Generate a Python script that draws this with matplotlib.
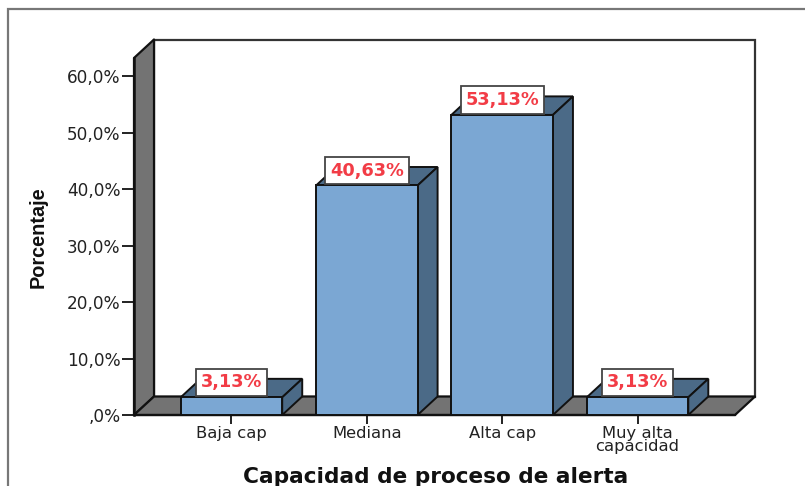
import matplotlib
matplotlib.use("Agg")
import matplotlib.pyplot as plt
from matplotlib.patches import Polygon, Rectangle

categorias = ["Baja cap", "Mediana", "Alta cap", "Muy alta\ncapacidad"]
porcentajes = [3.13, 40.63, 53.13, 3.13]
etiquetas = ["3,13%", "40,63%", "53,13%", "3,13%"]
ticks_y = [0, 10, 20, 30, 40, 50, 60]
ticks_y_labels = [",0%", "10,0%", "20,0%", "30,0%", "40,0%", "50,0%", "60,0%"]

W, H = 805, 486
COL_FRENTE = "#7BA7D3"
COL_LADO = "#4B6A87"
COL_PARED = "#737373"
BORDE = "#111111"

fig = plt.figure(figsize=(W / 100, H / 100), dpi=100)

# marco exterior, se sale de la imagen por la derecha y por abajo
fig.add_artist(Rectangle((8 / W, -0.05), 1.1, 1 - 9 / H + 0.05, transform=fig.transFigure,
                         fill=False, edgecolor="#777777", linewidth=1.6))

ax = fig.add_axes([134 / W, 1 - 415 / H, (735 - 134) / W, (415 - 58) / H])
ax.set_xlim(-0.72, 3.72)
ax.set_ylim(0, 63.2)
ax.patch.set_visible(False)

# profundidad del efecto 3D en unidades de datos
dx = 20 / 135.3
dy = 18.5 / 5.65
x0, x1 = ax.get_xlim()
y1 = ax.get_ylim()[1]

pared = dict(facecolor=COL_PARED, edgecolor=BORDE, linewidth=1.6, clip_on=False, joinstyle="round")
ax.add_patch(Polygon([(x0 + dx, dy), (x1 + dx, dy), (x1 + dx, y1 + dy), (x0 + dx, y1 + dy)],
                     facecolor="white", edgecolor="#333333", linewidth=1.6, clip_on=False))
ax.add_patch(Polygon([(x0, 0), (x0 + dx, dy), (x0 + dx, y1 + dy), (x0, y1)], **pared))
ax.add_patch(Polygon([(x0, 0), (x1, 0), (x1 + dx, dy), (x0 + dx, dy)], **pared))

# barras: frente, tapa y lado
ancho = 0.75
for i, v in enumerate(porcentajes):
    a, b = i - ancho / 2, i + ancho / 2
    ax.add_patch(Polygon([(a, v), (b, v), (b + dx, v + dy), (a + dx, v + dy)],
                         facecolor=COL_LADO, edgecolor=BORDE, linewidth=1.4, clip_on=False))
    ax.add_patch(Polygon([(b, 0), (b + dx, dy), (b + dx, v + dy), (b, v)],
                         facecolor=COL_LADO, edgecolor=BORDE, linewidth=1.4, clip_on=False))
ax.bar(range(4), porcentajes, width=ancho, color=COL_FRENTE, edgecolor=BORDE, linewidth=1.4, zorder=3)

for i, v in enumerate(porcentajes):
    ax.annotate(etiquetas[i], (i, v), xytext=(0, 4.2), textcoords="offset points",
                ha="center", va="bottom", color="#F23C46", fontsize=12.8,
                fontweight="bold", family="DejaVu Sans", zorder=5,
                bbox=dict(boxstyle="square,pad=0.27", facecolor="white", edgecolor="#444444", linewidth=1.3))

for s in ["top", "right"]:
    ax.spines[s].set_visible(False)
ax.spines["left"].set_linewidth(1.8)
ax.spines["bottom"].set_linewidth(1.6)
ax.spines["left"].set_color(BORDE)
ax.spines["bottom"].set_color(BORDE)

ax.set_xticks(range(4))
ax.set_xticklabels(categorias, family="DejaVu Sans", fontsize=11.8, color="#222222", linespacing=0.8)
ax.set_yticks(ticks_y)
ax.set_yticklabels(ticks_y_labels, family="DejaVu Sans", fontsize=12.2, color="#222222")
ax.tick_params(axis="y", length=8.5, width=1.3, color=BORDE, pad=1.2)
ax.tick_params(axis="x", length=6.5, width=1.3, color=BORDE, pad=1.5)

fig.text(436 / W, 1 - 477 / H, "Capacidad de proceso de alerta", ha="center", va="center",
         family="DejaVu Sans", fontweight="bold", fontsize=15.6, color="#111111")
fig.text(38 / W, 1 - 237 / H, "Porcentaje", rotation=90, ha="center", va="center",
         family="Liberation Sans", fontweight="bold", fontsize=14.3, color="#111111")

fig.savefig("out.png", dpi=100)
plt.close(fig)
